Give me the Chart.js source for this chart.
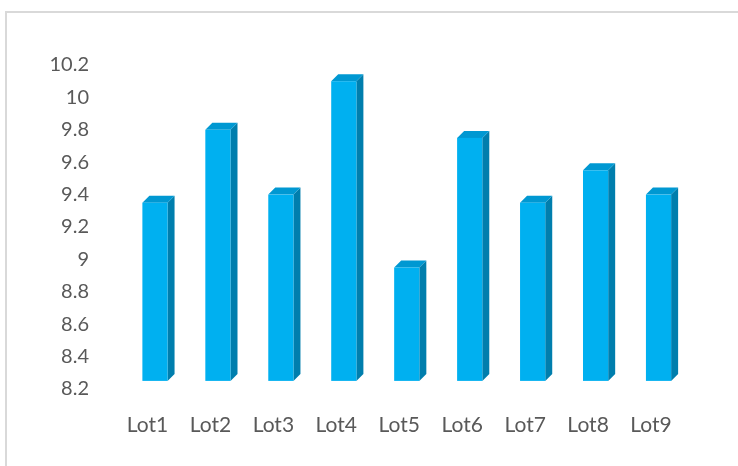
<!DOCTYPE html>
<html>
<head>
<meta charset="utf-8">
<script src="https://cdn.jsdelivr.net/npm/chart.js@4.4.1/dist/chart.umd.min.js"></script>
<style>
html,body{margin:0;padding:0;background:#fff;}
#wrap{width:738px;height:466px;}
</style>
</head>
<body>
<div id="wrap"><canvas id="c" width="738" height="466"></canvas></div>
<script>
const categories = ['Lot1','Lot2','Lot3','Lot4','Lot5','Lot6','Lot7','Lot8','Lot9'];
const values = [9.35, 9.8, 9.4, 10.1, 8.95, 9.75, 9.35, 9.55, 9.4];
const yMin = 8.2, yMax = 10.2, yStep = 0.2;
const barBase = 8.25;

const FRONT = '#00B0F0', TOP = '#0098D2', SIDE = '#007EAD';
const DEPTH = 7, SHIFT = 7.5;

const bars3d = {
  id: 'bars3d',
  afterDatasetsDraw(chart) {
    const ctx = chart.ctx;
    const meta = chart.getDatasetMeta(0);
    ctx.save();
    meta.data.forEach(el => {
      const p = el.getProps(['x','y','base','width'], true);
      const x0 = p.x - p.width/2 + SHIFT, x1 = p.x + p.width/2 + SHIFT;
      const yT = p.y, yB = p.base, d = DEPTH;
      ctx.fillStyle = SIDE;
      ctx.beginPath();
      ctx.moveTo(x1, yT); ctx.lineTo(x1+d, yT-d); ctx.lineTo(x1+d, yB-d); ctx.lineTo(x1, yB); ctx.closePath(); ctx.fill();
      ctx.fillStyle = TOP;
      ctx.beginPath();
      ctx.moveTo(x0, yT); ctx.lineTo(x0+d, yT-d); ctx.lineTo(x1+d, yT-d); ctx.lineTo(x1, yT); ctx.closePath(); ctx.fill();
      ctx.fillStyle = FRONT;
      ctx.fillRect(x0, yT, x1-x0, yB-yT);
    });
    ctx.restore();
  }
};

const frame = {
  id: 'frame',
  beforeDraw(chart) {
    const ctx = chart.ctx;
    ctx.save();
    ctx.strokeStyle = '#d9d9d9';
    ctx.lineWidth = 2;
    ctx.beginPath();
    ctx.moveTo(6, 466); ctx.lineTo(6, 12); ctx.lineTo(738, 12);
    ctx.stroke();
    ctx.restore();
  }
};

new Chart(document.getElementById('c'), {
  type: 'bar',
  data: {
    labels: categories,
    datasets: [{
      data: values,
      base: barBase,
      backgroundColor: 'rgba(0,0,0,0)',
      borderWidth: 0,
      categoryPercentage: 1,
      barPercentage: 0.4
    }]
  },
  options: {
    responsive: false,
    animation: false,
    layout: { padding: { left: 49, right: 55.5, top: 65, bottom: 17 } },
    plugins: { legend: { display: false }, tooltip: { enabled: false } },
    scales: {
      y: {
        min: yMin, max: yMax,
        ticks: { stepSize: yStep, color: '#595959', font: { family: 'Lato', size: 20 }, padding: 27,
          callback: v => String(Math.round(v*10)/10) },
        grid: { display: false, drawTicks: false },
        border: { display: false },
        afterFit: s => { s.width = 67; }
      },
      x: {
        ticks: { color: '#595959', font: { family: 'Lato', size: 21 }, padding: 24 },
        grid: { display: false, drawTicks: false },
        border: { display: false },
        afterFit: s => { s.height = 60; }
      }
    }
  },
  plugins: [frame, bars3d]
});
</script>
</body>
</html>
